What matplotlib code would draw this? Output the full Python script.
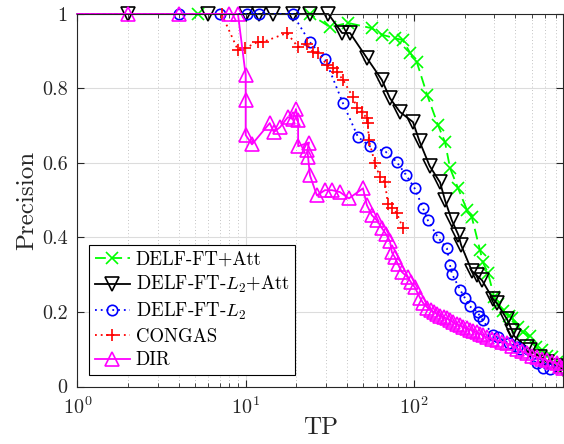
import matplotlib
matplotlib.use("Agg")
from matplotlib import pyplot as plt
from matplotlib.ticker import FixedLocator, FixedFormatter, LogLocator, NullFormatter

plt.rcParams["font.family"] = "serif"
plt.rcParams["font.serif"] = ["cmr10", "DejaVu Serif"]
plt.rcParams["mathtext.fontset"] = "cm"
plt.rcParams["axes.formatter.use_mathtext"] = True

# TP / precision pairs
att_tp = [1, 5.2, 24, 31.7, 40.6, 56, 65, 77, 86, 95, 104, 120, 139, 153, 164, 183,
          207, 221, 247, 257, 275, 300, 316, 340, 365, 383, 416, 445, 490, 530, 580,
          620, 663, 710, 769]
att_p = [1, 1, 1, 0.965, 0.976, 0.962, 0.944, 0.935, 0.93, 0.895, 0.871, 0.782, 0.702,
         0.656, 0.586, 0.532, 0.473, 0.454, 0.366, 0.333, 0.306, 0.24, 0.222, 0.204,
         0.19, 0.185, 0.159, 0.145, 0.135, 0.105, 0.098, 0.083, 0.078, 0.065, 0.05]

l2att_tp = [1, 2, 6, 10, 12, 14.5, 19, 24, 31, 37.4, 41.7, 52.5, 64.5, 72, 82.6, 98.7,
            108, 124, 143, 153, 168, 184, 191, 221, 237, 254, 295, 312, 358, 383, 395,
            470, 490, 562, 619, 700, 769]
l2att_p = [1, 1, 1, 1, 1, 1, 1, 1, 1, 0.949, 0.949, 0.882, 0.823, 0.774, 0.737, 0.71,
           0.658, 0.592, 0.548, 0.5, 0.446, 0.406, 0.379, 0.31, 0.298, 0.285, 0.235,
           0.223, 0.18, 0.15, 0.135, 0.105, 0.097, 0.08, 0.065, 0.055, 0.048]

l2_tp = [1, 4, 7, 10.2, 12, 19, 24, 29.6, 37.9, 46.5, 54.7, 68, 79, 90, 101, 113, 121,
         139, 157, 164, 168, 188, 201, 215, 240, 245, 257, 295, 316, 365, 410, 428, 540,
         586, 640]
l2_p = [1, 1, 1, 1, 1, 1, 0.925, 0.88, 0.76, 0.67, 0.645, 0.63, 0.603, 0.567, 0.532,
        0.48, 0.446, 0.4, 0.371, 0.325, 0.303, 0.26, 0.237, 0.215, 0.2, 0.19, 0.178,
        0.137, 0.132, 0.116, 0.105, 0.1, 0.062, 0.05, 0.046]

congas_tp = [1, 7.2, 9, 9.9, 11.8, 12.7, 17.6, 20.5, 23.1, 25.1, 26.9, 30.4, 33, 34.9,
             37.9, 43.4, 45.8, 49.1, 52.5, 53.2, 54, 58.6, 62.8, 67.3, 70, 74, 79.2, 86]
congas_p = [1, 1, 0.903, 0.908, 0.925, 0.925, 0.949, 0.911, 0.92, 0.898, 0.895, 0.863,
            0.855, 0.844, 0.823, 0.777, 0.747, 0.737, 0.72, 0.707, 0.661, 0.6, 0.562,
            0.548, 0.49, 0.48, 0.465, 0.425]

dir_tp = [1, 2, 4, 8, 9, 10, 10, 10, 10.9, 13.9, 14.7, 16, 17.8, 19.1, 19.9, 20.5, 20.5,
          23.8, 23.3, 23.5, 24.1, 26.5, 29.6, 32.6, 36.3, 41.1, 49.8, 52.5, 56.2, 60.3,
          64.5, 68, 72, 74, 77, 80, 84.9, 92, 96, 101, 109, 113, 120, 126, 131, 137, 143,
          150, 157, 164, 171, 180, 188, 197, 207, 216, 225, 236, 247, 258, 270, 290, 312,
          335, 358, 383, 410, 440, 470, 505, 540, 580, 619, 660, 709, 740, 769]
dir_p = [1, 1, 1, 1, 1, 0.836, 0.77, 0.675, 0.65, 0.707, 0.683, 0.696, 0.723, 0.718,
         0.745, 0.715, 0.645, 0.655, 0.635, 0.615, 0.567, 0.513, 0.527, 0.527, 0.522,
         0.505, 0.532, 0.487, 0.46, 0.446, 0.425, 0.41, 0.39, 0.36, 0.347, 0.33, 0.307,
         0.293, 0.28, 0.267, 0.237, 0.225, 0.212, 0.206, 0.2, 0.195, 0.19, 0.186, 0.183,
         0.178, 0.172, 0.168, 0.164, 0.16, 0.156, 0.153, 0.15, 0.146, 0.142, 0.137,
         0.132, 0.128, 0.124, 0.12, 0.116, 0.109, 0.102, 0.095, 0.089, 0.083, 0.078,
         0.074, 0.07, 0.066, 0.062, 0.056, 0.051]

y_ticks = [0, 0.2, 0.4, 0.6, 0.8, 1]
y_labels = ["0", "0.2", "0.4", "0.6", "0.8", "1"]

fig = plt.figure(figsize=(5.64, 4.44), dpi=100, facecolor="white")
ax = fig.add_axes([77.4 / 564, 57.5 / 444, 485.6 / 564, 372.5 / 444])

common = dict(linewidth=1.3, markerfacecolor="none", markeredgewidth=1.2,
              markevery=slice(1, None), clip_on=False)
ax.plot(att_tp, att_p, color="#00ff00", linestyle=(0, (6, 3)), marker="x",
        markersize=8, label="DELF-FT+Att", **common)
ax.plot(l2att_tp, l2att_p, color="black", linestyle="-", marker="v",
        markersize=9.5, label="DELF-FT-$L_2$+Att", **common)
ax.plot(l2_tp, l2_p, color="#0000ff", linestyle=(0, (1, 2.2)), marker="o",
        markersize=7.5, label="DELF-FT-$L_2$", **common)
ax.plot(congas_tp, congas_p, color="#ff0000", linestyle=(0, (1, 2.2)), marker="+",
        markersize=9, label="CONGAS", **common)
ax.plot(dir_tp, dir_p, color="#ff00ff", linestyle="-", marker="^",
        markersize=9.5, label="DIR", **common)

ax.set_xscale("log")
ax.set_xlim(1, 769)
ax.set_ylim(0, 1)
ax.xaxis.set_major_locator(LogLocator(base=10, numticks=10))
ax.xaxis.set_minor_locator(LogLocator(base=10, subs=range(2, 10), numticks=20))
ax.xaxis.set_minor_formatter(NullFormatter())
ax.yaxis.set_major_locator(FixedLocator(y_ticks))
ax.yaxis.set_major_formatter(FixedFormatter(y_labels))

ax.grid(True, which="major", color="#dcdcdc", linewidth=0.8)
ax.grid(True, which="minor", axis="x", color="#b0b0b0", linestyle=(0, (1, 3)),
        linewidth=0.6)
ax.set_axisbelow(True)

dark = "#262626"
for s in ax.spines.values():
    s.set_color(dark)
    s.set_linewidth(0.8)
ax.tick_params(which="both", direction="in", top=True, right=True, colors=dark,
               labelsize=14.5)
ax.tick_params(which="major", length=5, width=0.8)
ax.tick_params(which="minor", length=3, width=0.6)
ax.tick_params(axis="x", pad=7)
ax.tick_params(axis="y", pad=7)

ax.set_xlabel("TP", fontsize=18, color=dark, labelpad=-1)
ax.set_ylabel("Precision", fontsize=18, color=dark, labelpad=3)

leg = ax.legend(loc="lower left", bbox_to_anchor=(0.024, 0.031), borderaxespad=0,
                fontsize=13.5, fancybox=False, framealpha=1, edgecolor="black",
                handlelength=1.9, handletextpad=0.3, labelspacing=0.3,
                borderpad=0.3)
leg.get_frame().set_linewidth(0.8)

fig.savefig("out.png", dpi=100)
